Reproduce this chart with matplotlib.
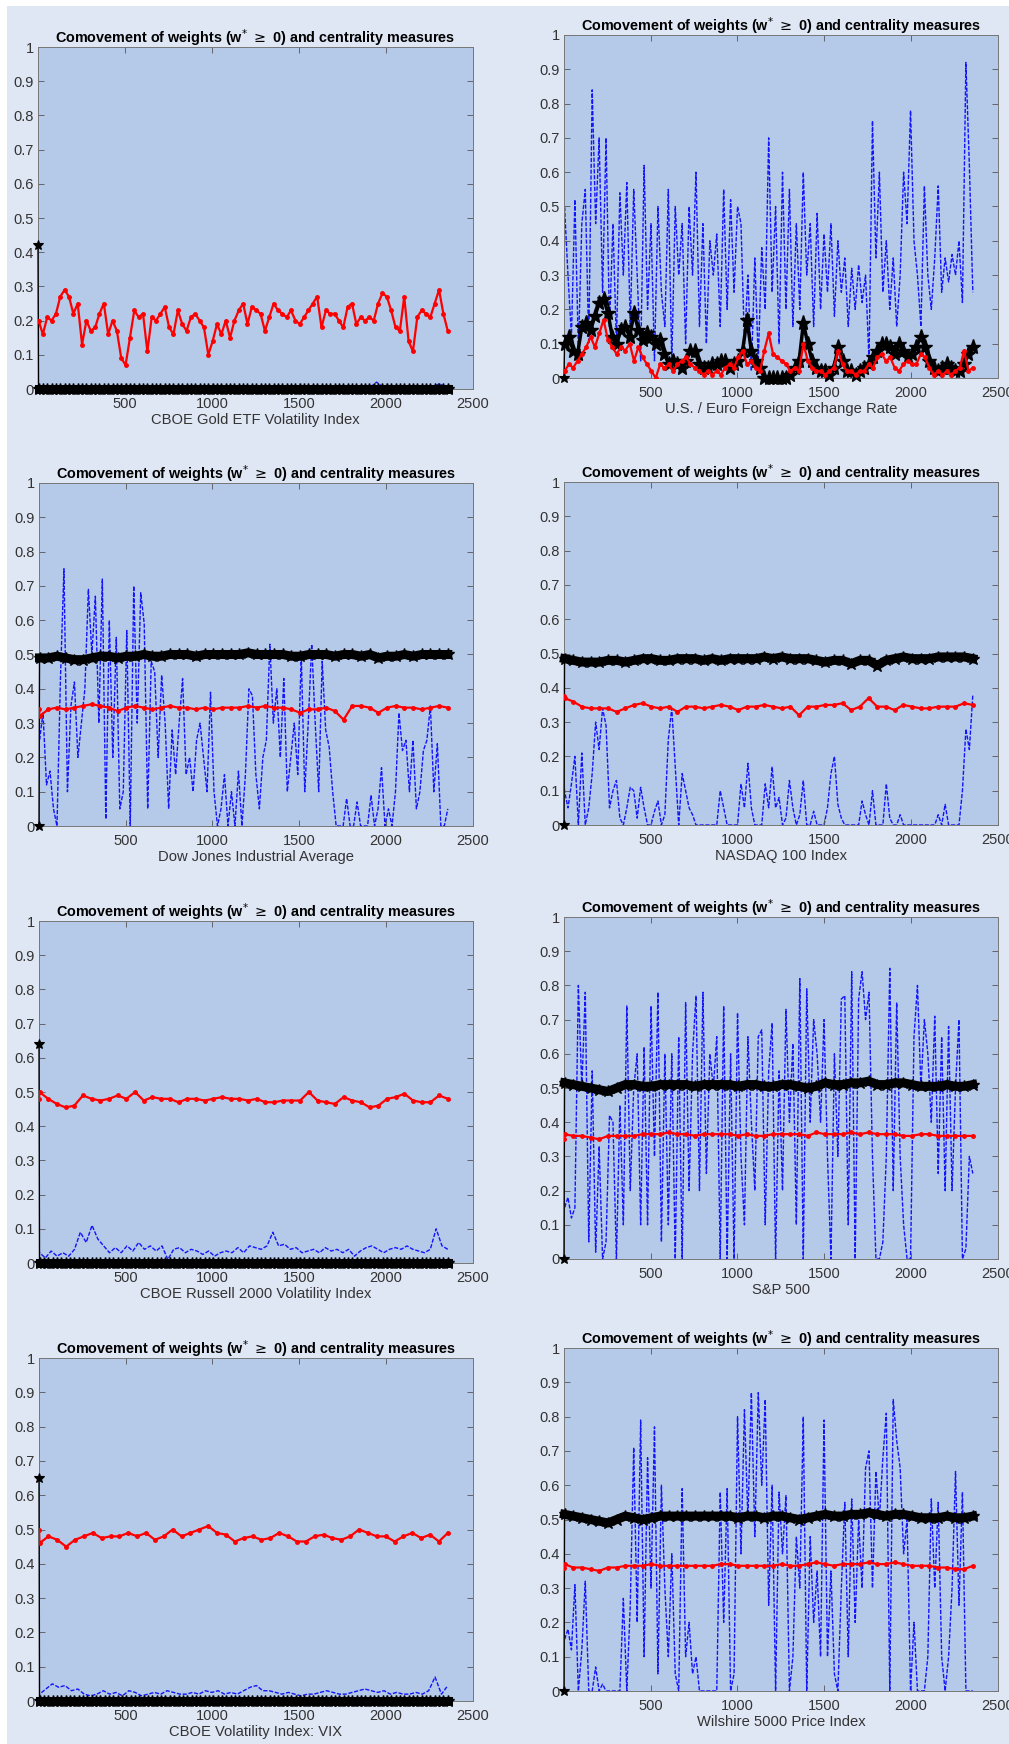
import numpy as np
import matplotlib
matplotlib.use('Agg')
import matplotlib.pyplot as plt
from matplotlib.patches import Rectangle

plt.rcParams['font.family'] = ['Liberation Sans', 'DejaVu Sans']

W, H = 1009, 1744
TITLE = r'Comovement of weights (w$^{*}$ $\geq$ 0) and centrality measures'

xlabels = ['CBOE Gold ETF Volatility Index', 'U.S. / Euro Foreign Exchange Rate',
           'Dow Jones Industrial Average', 'NASDAQ 100 Index',
           'CBOE Russell 2000 Volatility Index', 'S&P 500',
           'CBOE Volatility Index: VIX', 'Wilshire 5000 Price Index']
xticks = [500, 1000, 1500, 2000, 2500]
yticks = [0, 0.1, 0.2, 0.3, 0.4, 0.5, 0.6, 0.7, 0.8, 0.9, 1]
ytick_labels = ['0', '0.1', '0.2', '0.3', '0.4', '0.5', '0.6', '0.7', '0.8', '0.9', '1']

# ---------------- panel 1: CBOE Gold ETF ----------------
red1 = [0.20, 0.20, 0.16, 0.21, 0.20, 0.22, 0.27, 0.29, 0.27, 0.22, 0.25, 0.13, 0.20, 0.17, 0.18, 0.22,
        0.25, 0.16, 0.20, 0.17, 0.09, 0.07, 0.15, 0.23, 0.21, 0.22, 0.11, 0.21, 0.20, 0.22, 0.24, 0.18,
        0.16, 0.23, 0.19, 0.17, 0.21, 0.22, 0.20, 0.18, 0.10, 0.14, 0.19, 0.16, 0.20, 0.15, 0.20, 0.23,
        0.25, 0.19, 0.24, 0.23, 0.22, 0.17, 0.21, 0.25, 0.23, 0.22, 0.21, 0.23, 0.20, 0.19, 0.21, 0.23,
        0.25, 0.27, 0.18, 0.23, 0.22, 0.22, 0.20, 0.18, 0.24, 0.25, 0.19, 0.21, 0.20, 0.21, 0.20, 0.25,
        0.28, 0.27, 0.23, 0.18, 0.17, 0.27, 0.14, 0.11, 0.21, 0.23, 0.22, 0.21, 0.25, 0.29, 0.22, 0.17]
black1 = [0.42] + [0.0] * 95
blue1 = [0.0, 0.0, 0.01, 0.005, 0.01, 0.0, 0.005, 0.0, 0.0, 0.01, 0.005, 0.0, 0.0, 0.0, 0.005, 0.0,
         0.0, 0.0, 0.0, 0.005, 0.0, 0.0, 0.0, 0.0, 0.0, 0.0, 0.0, 0.0, 0.0, 0.0, 0.0, 0.0,
         0.0, 0.0, 0.0, 0.01, 0.0, 0.005, 0.0, 0.02, 0.0, 0.0, 0.0, 0.0, 0.005, 0.0, 0.015, 0.005]

# ---------------- panel 2: U.S. / Euro ----------------
red2 = [0.02, 0.02, 0.04, 0.03, 0.05, 0.07, 0.09, 0.12, 0.09, 0.13, 0.17, 0.11, 0.09, 0.07, 0.09, 0.08,
        0.10, 0.05, 0.09, 0.06, 0.04, 0.02, 0.00, 0.04, 0.03, 0.04, 0.02, 0.04, 0.05, 0.06, 0.04, 0.03,
        0.02, 0.01, 0.02, 0.01, 0.02, 0.01, 0.03, 0.04, 0.03, 0.06, 0.08, 0.04, 0.05, 0.03, 0.02, 0.08,
        0.13, 0.07, 0.06, 0.05, 0.04, 0.02, 0.03, 0.02, 0.10, 0.05, 0.03, 0.02, 0.02, 0.01, 0.02, 0.03,
        0.08, 0.04, 0.02, 0.02, 0.01, 0.02, 0.02, 0.04, 0.03, 0.06, 0.07, 0.05, 0.06, 0.03, 0.02, 0.04,
        0.05, 0.04, 0.04, 0.07, 0.06, 0.03, 0.01, 0.02, 0.01, 0.02, 0.01, 0.02, 0.03, 0.08, 0.02, 0.03]
black2 = [0.00, 0.10, 0.12, 0.08, 0.07, 0.15, 0.16, 0.14, 0.18, 0.22, 0.23, 0.19, 0.12, 0.10, 0.14, 0.15,
          0.12, 0.19, 0.14, 0.11, 0.13, 0.12, 0.10, 0.11, 0.07, 0.04, 0.05, 0.04, 0.03, 0.05, 0.08, 0.08,
          0.04, 0.03, 0.03, 0.04, 0.04, 0.05, 0.05, 0.03, 0.04, 0.05, 0.08, 0.17, 0.08, 0.05, 0.03, 0.00,
          0.00, 0.00, 0.00, 0.00, 0.00, 0.01, 0.03, 0.05, 0.16, 0.10, 0.05, 0.03, 0.02, 0.02, 0.01, 0.03,
          0.09, 0.05, 0.02, 0.02, 0.01, 0.02, 0.03, 0.04, 0.06, 0.08, 0.10, 0.10, 0.09, 0.07, 0.10, 0.08,
          0.06, 0.07, 0.09, 0.12, 0.09, 0.05, 0.03, 0.02, 0.03, 0.04, 0.03, 0.02, 0.02, 0.04, 0.07, 0.09]
blue2 = [0.45, 0.50, 0.30, 0.12, 0.52, 0.08, 0.45, 0.55, 0.10, 0.84, 0.45, 0.70, 0.25, 0.70, 0.15, 0.45,
         0.10, 0.54, 0.30, 0.57, 0.15, 0.55, 0.30, 0.05, 0.62, 0.20, 0.45, 0.05, 0.50, 0.25, 0.15, 0.55,
         0.05, 0.50, 0.30, 0.45, 0.10, 0.50, 0.30, 0.60, 0.15, 0.45, 0.10, 0.40, 0.30, 0.42, 0.15, 0.55,
         0.20, 0.52, 0.25, 0.50, 0.45, 0.10, 0.30, 0.02, 0.35, 0.05, 0.38, 0.20, 0.70, 0.25, 0.50, 0.10,
         0.60, 0.20, 0.55, 0.15, 0.45, 0.20, 0.60, 0.30, 0.45, 0.15, 0.48, 0.20, 0.42, 0.25, 0.45, 0.18,
         0.40, 0.25, 0.35, 0.15, 0.32, 0.20, 0.33, 0.22, 0.30, 0.05, 0.75, 0.35, 0.60, 0.25, 0.40, 0.20,
         0.35, 0.15, 0.30, 0.60, 0.45, 0.78, 0.40, 0.30, 0.15, 0.56, 0.30, 0.20, 0.35, 0.56, 0.25, 0.35,
         0.28, 0.36, 0.30, 0.40, 0.22, 0.92, 0.62, 0.25]

# ---------------- panel 3: Dow Jones ----------------
red3 = [0.34, 0.32, 0.34, 0.345, 0.34, 0.345, 0.35, 0.355, 0.35, 0.345, 0.335, 0.345, 0.35, 0.345,
        0.34, 0.345, 0.35, 0.345, 0.345, 0.34, 0.345, 0.34, 0.345, 0.345, 0.345, 0.35, 0.345, 0.35,
        0.345, 0.345, 0.34, 0.33, 0.34, 0.34, 0.345, 0.335, 0.31, 0.35, 0.35, 0.345, 0.33, 0.345,
        0.35, 0.345, 0.345, 0.34, 0.345, 0.35, 0.345]
black3 = [0.0, 0.49, 0.49, 0.495, 0.49, 0.485, 0.485, 0.49, 0.495, 0.495, 0.49, 0.495, 0.495, 0.5,
          0.495, 0.495, 0.5, 0.5, 0.5, 0.495, 0.5, 0.5, 0.5, 0.5, 0.5, 0.505, 0.5, 0.5, 0.5, 0.5,
          0.495, 0.495, 0.5, 0.5, 0.5, 0.495, 0.5, 0.5, 0.495, 0.5, 0.49, 0.495, 0.495, 0.5, 0.495,
          0.5, 0.5, 0.5, 0.5]
blue3 = [0.30, 0.25, 0.33, 0.12, 0.16, 0.05, 0.00, 0.43, 0.75, 0.10, 0.35, 0.42, 0.20, 0.30, 0.40,
         0.69, 0.50, 0.67, 0.30, 0.72, 0.02, 0.60, 0.20, 0.55, 0.05, 0.10, 0.57, 0.00, 0.70, 0.30,
         0.68, 0.59, 0.05, 0.48, 0.45, 0.20, 0.44, 0.30, 0.05, 0.28, 0.15, 0.30, 0.43, 0.15, 0.20,
         0.10, 0.25, 0.30, 0.20, 0.10, 0.39, 0.10, 0.00, 0.05, 0.15, 0.00, 0.10, 0.00, 0.16, 0.00,
         0.15, 0.40, 0.38, 0.15, 0.05, 0.20, 0.25, 0.53, 0.30, 0.40, 0.20, 0.43, 0.10, 0.20, 0.30,
         0.15, 0.50, 0.10, 0.30, 0.53, 0.30, 0.10, 0.48, 0.28, 0.23, 0.10, 0.00, 0.00, 0.00, 0.08,
         0.00, 0.00, 0.07, 0.00, 0.00, 0.00, 0.09, 0.00, 0.05, 0.17, 0.00, 0.05, 0.00, 0.10, 0.33,
         0.22, 0.25, 0.10, 0.25, 0.05, 0.10, 0.22, 0.25, 0.35, 0.10, 0.24, 0.00, 0.00, 0.05]

# ---------------- panel 4: NASDAQ 100 ----------------
red4 = [0.375, 0.37, 0.36, 0.345, 0.34, 0.34, 0.34, 0.33, 0.34, 0.35, 0.355, 0.345, 0.34, 0.345,
        0.33, 0.345, 0.345, 0.34, 0.345, 0.35, 0.345, 0.335, 0.345, 0.345, 0.35, 0.345, 0.34,
        0.345, 0.32, 0.345, 0.345, 0.35, 0.35, 0.355, 0.335, 0.345, 0.37, 0.345, 0.345, 0.335,
        0.35, 0.345, 0.34, 0.34, 0.345, 0.345, 0.345, 0.355, 0.35]
black4 = [0.0, 0.485, 0.48, 0.475, 0.475, 0.475, 0.48, 0.48, 0.475, 0.48, 0.485, 0.485, 0.48, 0.48,
          0.485, 0.485, 0.485, 0.48, 0.485, 0.48, 0.485, 0.485, 0.485, 0.485, 0.49, 0.485, 0.49,
          0.485, 0.485, 0.485, 0.48, 0.475, 0.48, 0.48, 0.47, 0.48, 0.48, 0.465, 0.48, 0.485, 0.49,
          0.485, 0.485, 0.485, 0.49, 0.49, 0.49, 0.49, 0.485]
blue4 = [0.14, 0.10, 0.05, 0.12, 0.20, 0.00, 0.21, 0.00, 0.05, 0.15, 0.30, 0.22, 0.34, 0.29, 0.05,
         0.10, 0.13, 0.02, 0.00, 0.05, 0.11, 0.10, 0.02, 0.11, 0.05, 0.00, 0.00, 0.04, 0.07, 0.00,
         0.03, 0.25, 0.34, 0.17, 0.00, 0.15, 0.10, 0.05, 0.03, 0.00, 0.00, 0.00, 0.00, 0.00, 0.00,
         0.00, 0.10, 0.05, 0.00, 0.00, 0.00, 0.00, 0.12, 0.05, 0.18, 0.05, 0.00, 0.00, 0.00, 0.12,
         0.05, 0.17, 0.05, 0.08, 0.00, 0.02, 0.13, 0.05, 0.00, 0.03, 0.13, 0.00, 0.00, 0.04, 0.00,
         0.00, 0.00, 0.05, 0.15, 0.20, 0.06, 0.02, 0.00, 0.00, 0.00, 0.00, 0.00, 0.07, 0.03, 0.00,
         0.10, 0.00, 0.00, 0.00, 0.12, 0.02, 0.00, 0.00, 0.03, 0.00, 0.00, 0.00, 0.00, 0.00, 0.00,
         0.00, 0.00, 0.00, 0.00, 0.03, 0.00, 0.06, 0.00, 0.00, 0.00, 0.00, 0.10, 0.28, 0.22, 0.38]

# ---------------- panel 5: CBOE Russell 2000 ----------------
red5 = [0.48, 0.50, 0.48, 0.465, 0.455, 0.46, 0.49, 0.48, 0.475, 0.48, 0.49, 0.48, 0.50, 0.475,
        0.485, 0.48, 0.48, 0.47, 0.48, 0.48, 0.475, 0.48, 0.485, 0.48, 0.48, 0.475, 0.48, 0.47,
        0.47, 0.475, 0.475, 0.475, 0.50, 0.475, 0.47, 0.465, 0.485, 0.475, 0.47, 0.455, 0.46,
        0.48, 0.485, 0.495, 0.475, 0.47, 0.47, 0.49, 0.48]
black5 = [0.64] + [0.0] * 95
blue5 = [0.02, 0.03, 0.015, 0.035, 0.02, 0.03, 0.02, 0.04, 0.09, 0.06, 0.11, 0.07, 0.05, 0.03, 0.045,
         0.03, 0.05, 0.035, 0.06, 0.04, 0.05, 0.035, 0.05, 0.01, 0.04, 0.045, 0.03, 0.04, 0.035,
         0.025, 0.035, 0.02, 0.03, 0.035, 0.03, 0.045, 0.03, 0.05, 0.045, 0.04, 0.05, 0.09, 0.05,
         0.055, 0.04, 0.045, 0.03, 0.035, 0.04, 0.03, 0.045, 0.035, 0.04, 0.03, 0.04, 0.02, 0.035,
         0.045, 0.05, 0.04, 0.03, 0.04, 0.045, 0.04, 0.05, 0.04, 0.035, 0.03, 0.04, 0.10, 0.05, 0.04]

# ---------------- panel 6: S&P 500 ----------------
red6 = [0.35, 0.365, 0.36, 0.36, 0.355, 0.35, 0.36, 0.36, 0.36, 0.36, 0.365, 0.365, 0.365, 0.37,
        0.365, 0.365, 0.36, 0.365, 0.365, 0.365, 0.365, 0.36, 0.365, 0.36, 0.36, 0.365, 0.365,
        0.365, 0.365, 0.36, 0.37, 0.365, 0.365, 0.365, 0.37, 0.365, 0.37, 0.365, 0.365, 0.365,
        0.36, 0.36, 0.365, 0.365, 0.36, 0.36, 0.36, 0.36, 0.36]
black6 = [0.0, 0.515, 0.51, 0.505, 0.5, 0.495, 0.49, 0.5, 0.51, 0.51, 0.505, 0.505, 0.51, 0.51,
          0.51, 0.51, 0.505, 0.51, 0.51, 0.51, 0.51, 0.505, 0.51, 0.51, 0.505, 0.505, 0.51, 0.51,
          0.505, 0.5, 0.505, 0.515, 0.51, 0.51, 0.515, 0.515, 0.52, 0.51, 0.51, 0.515, 0.515, 0.51,
          0.505, 0.505, 0.505, 0.51, 0.505, 0.505, 0.51]
blue6 = [0.20, 0.15, 0.18, 0.12, 0.15, 0.80, 0.50, 0.78, 0.05, 0.55, 0.02, 0.33, 0.00, 0.05, 0.42,
         0.40, 0.00, 0.45, 0.10, 0.74, 0.20, 0.50, 0.60, 0.10, 0.62, 0.10, 0.74, 0.30, 0.78, 0.05,
         0.60, 0.10, 0.60, 0.00, 0.65, 0.00, 0.75, 0.20, 0.60, 0.77, 0.20, 0.78, 0.25, 0.60, 0.50,
         0.65, 0.00, 0.74, 0.00, 0.60, 0.00, 0.72, 0.30, 0.10, 0.65, 0.40, 0.20, 0.65, 0.67, 0.10,
         0.55, 0.69, 0.00, 0.55, 0.20, 0.73, 0.40, 0.63, 0.10, 0.82, 0.00, 0.79, 0.40, 0.70, 0.60,
         0.40, 0.70, 0.30, 0.00, 0.60, 0.30, 0.76, 0.77, 0.10, 0.84, 0.00, 0.76, 0.84, 0.70, 0.78,
         0.30, 0.00, 0.00, 0.05, 0.30, 0.85, 0.20, 0.75, 0.30, 0.10, 0.00, 0.00, 0.65, 0.80, 0.50,
         0.70, 0.60, 0.40, 0.71, 0.25, 0.65, 0.20, 0.68, 0.20, 0.50, 0.70, 0.00, 0.03, 0.30, 0.25]

# ---------------- panel 7: CBOE VIX ----------------
red7 = [0.50, 0.46, 0.48, 0.47, 0.45, 0.47, 0.48, 0.49, 0.475, 0.48, 0.48, 0.49, 0.48, 0.49, 0.47,
        0.48, 0.50, 0.48, 0.49, 0.50, 0.51, 0.49, 0.485, 0.465, 0.475, 0.48, 0.47, 0.475, 0.49,
        0.48, 0.465, 0.465, 0.48, 0.485, 0.475, 0.47, 0.48, 0.50, 0.49, 0.48, 0.48, 0.465, 0.48,
        0.49, 0.475, 0.485, 0.465, 0.49]
black7 = [0.65] + [0.0] * 95
blue7 = [0.01, 0.02, 0.035, 0.05, 0.04, 0.045, 0.03, 0.035, 0.02, 0.015, 0.02, 0.03, 0.02, 0.025,
         0.015, 0.03, 0.025, 0.015, 0.02, 0.025, 0.02, 0.03, 0.025, 0.02, 0.02, 0.025, 0.02, 0.03,
         0.025, 0.03, 0.02, 0.025, 0.02, 0.03, 0.04, 0.045, 0.03, 0.03, 0.025, 0.02, 0.025, 0.02,
         0.015, 0.02, 0.02, 0.025, 0.03, 0.025, 0.02, 0.02, 0.025, 0.03, 0.035, 0.03, 0.025, 0.03,
         0.02, 0.025, 0.02, 0.02, 0.025, 0.02, 0.03, 0.07, 0.02, 0.045]

# ---------------- panel 8: Wilshire 5000 ----------------
red8 = [0.36, 0.37, 0.36, 0.36, 0.355, 0.35, 0.36, 0.36, 0.365, 0.365, 0.365, 0.37, 0.365, 0.365,
        0.365, 0.365, 0.365, 0.365, 0.365, 0.37, 0.37, 0.365, 0.365, 0.365, 0.365, 0.365, 0.37,
        0.365, 0.365, 0.37, 0.375, 0.37, 0.365, 0.37, 0.37, 0.37, 0.375, 0.37, 0.37, 0.375, 0.37,
        0.365, 0.365, 0.365, 0.36, 0.36, 0.355, 0.355, 0.365]
black8 = [0.0, 0.515, 0.51, 0.505, 0.5, 0.495, 0.49, 0.5, 0.51, 0.505, 0.5, 0.505, 0.51, 0.51, 0.51,
          0.51, 0.51, 0.51, 0.51, 0.51, 0.51, 0.505, 0.51, 0.51, 0.505, 0.51, 0.51, 0.505, 0.5,
          0.505, 0.51, 0.515, 0.51, 0.51, 0.515, 0.515, 0.52, 0.515, 0.51, 0.515, 0.515, 0.51,
          0.505, 0.505, 0.505, 0.51, 0.505, 0.505, 0.51]
blue8 = [0.20, 0.15, 0.18, 0.12, 0.31, 0.00, 0.12, 0.32, 0.00, 0.00, 0.07, 0.00, 0.02, 0.00, 0.00,
         0.00, 0.00, 0.00, 0.27, 0.00, 0.25, 0.71, 0.20, 0.79, 0.10, 0.68, 0.30, 0.77, 0.05, 0.60,
         0.30, 0.10, 0.40, 0.05, 0.00, 0.59, 0.10, 0.20, 0.05, 0.10, 0.00, 0.00, 0.00, 0.00, 0.00,
         0.00, 0.58, 0.20, 0.59, 0.00, 0.05, 0.80, 0.40, 0.82, 0.50, 0.87, 0.45, 0.87, 0.60, 0.85,
         0.25, 0.60, 0.00, 0.58, 0.40, 0.57, 0.00, 0.10, 0.45, 0.30, 0.80, 0.00, 0.45, 0.20, 0.35,
         0.10, 0.79, 0.10, 0.35, 0.05, 0.00, 0.30, 0.55, 0.10, 0.56, 0.20, 0.50, 0.30, 0.65, 0.70,
         0.30, 0.64, 0.50, 0.68, 0.81, 0.00, 0.85, 0.73, 0.65, 0.40, 0.50, 0.00, 0.20, 0.00, 0.00,
         0.00, 0.10, 0.56, 0.30, 0.55, 0.10, 0.00, 0.10, 0.30, 0.64, 0.25, 0.58, 0.00, 0.00, 0.00]

reds = [red1, red2, red3, red4, red5, red6, red7, red8]
blacks = [black1, black2, black3, black4, black5, black6, black7, black8]
blues = [blue1, blue2, blue3, blue4, blue5, blue6, blue7, blue8]

# axes boxes in pixels: (left, top, right, bottom)
boxes = [(38, 47, 473, 389), (564, 35, 998, 378),
         (39, 483, 473, 826), (564, 482, 998, 825),
         (39, 921, 473, 1263), (564, 917, 998, 1259),
         (39, 1358, 473, 1701), (564, 1348, 998, 1691)]

FIG_BG = '#dfe6f4'
AX_BG = '#b5c9e9'


def xgrid(vals, end=2355.0):
    n = len(vals)
    return np.concatenate([[1.0], np.linspace(4.0, end, n - 1)])


fig = plt.figure(figsize=(W / 100, H / 100), dpi=100, facecolor=FIG_BG)
# white margins (left and top)
for (x0, y0, w, h) in [(0, 0, 7, H), (0, H - 6, W, 6)]:
    fig.patches.append(Rectangle((x0 / W, y0 / H), w / W, h / H, transform=fig.transFigure,
                                 facecolor='white', edgecolor='none', zorder=0))

for i in range(8):
    l, t, r, b = boxes[i]
    ax = fig.add_axes([l / W, 1 - b / H, (r - l) / W, (b - t) / H])
    ax.set_facecolor(AX_BG)
    bl = blues[i]
    ax.plot(xgrid(bl), bl, linestyle='--', color='#0000ff', lw=1.0, dashes=(3, 1.2),
            alpha=0.9, zorder=1)
    bk = blacks[i]
    xb = xgrid(bk)
    top = max(bk[1:])
    if top > 0.3:
        lw_b, ms_b = 6.5, 9
    elif top > 0.0:
        lw_b, ms_b = 2.5, 11
    else:
        lw_b, ms_b = 6.5, 9
    # first (jump) segment drawn thin, the rest as a thick star band
    ax.plot(xb[:2], bk[:2], '-', color='black', lw=1.0, zorder=3, clip_on=False)
    ax.plot(xb[:1], bk[:1], linestyle='none', color='black', marker='*', ms=7, mew=0.8,
            zorder=3, clip_on=False)
    ax.plot(xb[1:], bk[1:], '-', color='black', lw=lw_b, marker='*', ms=ms_b, mew=1.0,
            zorder=3, clip_on=False)
    rd = reds[i]
    ax.plot(xgrid(rd), rd, '-', color='#ff0000', lw=1.6, marker='.', ms=5, zorder=4)

    ax.set_xlim(1, 2500)
    ax.set_ylim(0, 1)
    ax.set_xticks(xticks)
    ax.set_xticklabels([str(v) for v in xticks])
    ax.set_yticks(yticks)
    ax.set_yticklabels(ytick_labels)
    ax.tick_params(direction='in', length=4, width=0.6, colors='#555555', labelcolor='#333333',
                   labelsize=10.5, top=True, right=True, pad=3)
    ax.tick_params(axis='x', pad=6)
    for s in ax.spines.values():
        s.set_color('#777777')
        s.set_linewidth(0.7)
        s.set_zorder(2.5)
    ax.set_title(TITLE, fontsize=10.4, fontweight='bold', pad=3, color='black')
    ax.set_xlabel(xlabels[i], fontsize=10.6, color='#333333', labelpad=1)

fig.savefig('out.png', dpi=100, facecolor=FIG_BG)
